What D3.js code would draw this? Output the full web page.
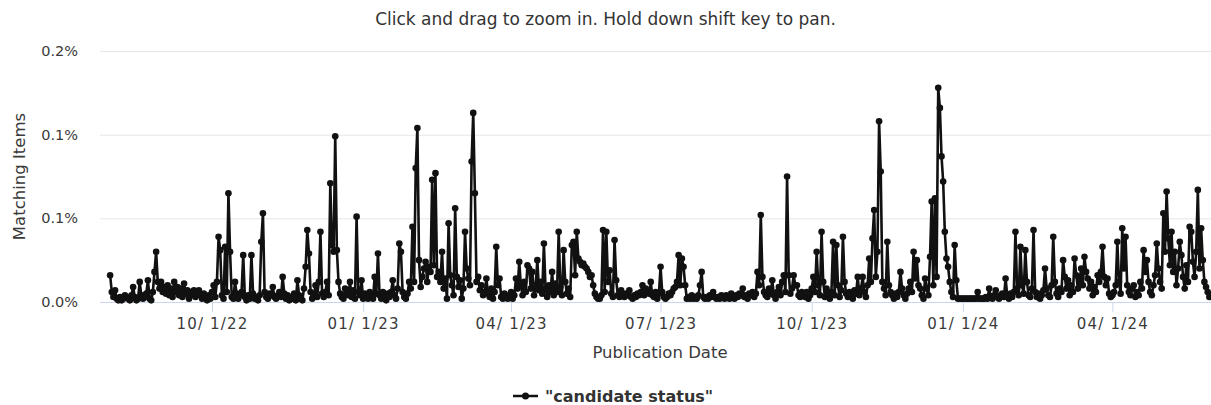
<!DOCTYPE html>
<html>
<head>
<meta charset="utf-8">
<script src="https://cdn.jsdelivr.net/npm/d3@7/dist/d3.min.js"></script>
<style>
  html, body { margin: 0; padding: 0; background: #fff; }
  svg { display: block; font-family: "DejaVu Sans", "Lucida Grande", sans-serif; }
</style>
</head>
<body>
<svg id="chart" width="1211" height="405"></svg>
<script>
// ---- DATA (daily share of matching items, in %) ----
const seriesName = '"candidate status"';
const firstDay = "2022-07-31";

// 2022-07-31 .. 2023-01-16
const valuesA = [
  0.016,0.006,0.003,0.007,0.002,0.001,0.003,0.001,0.002,0.004,
  0.003,0.002,0.001,0.004,0.009,0.003,0.001,0.002,0.012,0.004,
  0.002,0.003,0.005,0.013,0.002,0.001,0.006,0.018,0.030,0.012,
  0.008,0.012,0.006,0.009,0.005,0.010,0.004,0.008,0.003,0.012,
  0.006,0.009,0.004,0.008,0.003,0.011,0.005,0.007,0.002,0.006,
  0.004,0.007,0.003,0.005,0.007,0.004,0.002,0.005,0.003,0.001,
  0.004,0.002,0.006,0.010,0.003,0.012,0.039,0.031,0.004,0.002,
  0.033,0.006,0.065,0.030,0.003,0.002,0.012,0.005,0.002,0.004,
  0.006,0.028,0.003,0.001,0.004,0.002,0.028,0.005,0.002,0.003,
  0.001,0.004,0.036,0.053,0.006,0.003,0.002,0.005,0.004,0.009,
  0.003,0.002,0.004,0.006,0.003,0.015,0.005,0.002,0.004,0.001,
  0.003,0.002,0.005,0.001,0.013,0.004,0.002,0.001,0.008,0.021,
  0.043,0.029,0.006,0.002,0.004,0.010,0.003,0.012,0.042,0.005,
  0.003,0.006,0.012,0.004,0.071,0.034,0.030,0.099,0.031,0.012,
  0.005,0.003,0.002,0.008,0.006,0.004,0.012,0.003,0.007,0.002,
  0.051,0.006,0.004,0.013,0.002,0.005,0.003,0.002,0.006,0.004,
  0.002,0.015,0.005,0.029,0.004,0.002,0.006,0.003,0.001,0.005
];
// 2023-01-17 .. 2023-07-05
const valuesB = [
  0.003,0.006,0.013,0.004,0.002,0.008,0.035,0.030,0.006,0.003,
  0.002,0.005,0.012,0.008,0.045,0.012,0.080,0.104,0.025,0.009,
  0.015,0.020,0.024,0.012,0.021,0.018,0.073,0.022,0.077,0.015,
  0.018,0.012,0.030,0.008,0.014,0.002,0.047,0.016,0.010,0.004,
  0.056,0.015,0.009,0.013,0.002,0.008,0.042,0.020,0.014,0.010,
  0.084,0.113,0.065,0.012,0.015,0.007,0.010,0.004,0.006,0.014,
  0.005,0.003,0.008,0.002,0.006,0.033,0.010,0.014,0.003,0.002,
  0.005,0.003,0.002,0.004,0.006,0.002,0.004,0.014,0.008,0.024,
  0.010,0.004,0.012,0.006,0.022,0.020,0.008,0.018,0.004,0.010,
  0.025,0.007,0.012,0.005,0.035,0.008,0.003,0.010,0.006,0.018,
  0.004,0.011,0.006,0.042,0.009,0.004,0.031,0.012,0.005,0.008,
  0.003,0.034,0.036,0.016,0.042,0.026,0.024,0.022,0.023,0.021,
  0.020,0.018,0.015,0.016,0.010,0.005,0.003,0.002,0.002,0.004,
  0.043,0.006,0.042,0.012,0.019,0.005,0.003,0.037,0.013,0.004,
  0.003,0.007,0.004,0.003,0.005,0.004,0.007,0.003,0.002,0.004,
  0.003,0.005,0.004,0.006,0.010,0.004,0.008,0.006,0.005,0.012,
  0.004,0.003,0.006,0.002,0.005,0.021,0.006,0.003,0.002,0.003
];
// 2023-07-06 .. 2023-12-22
const valuesC = [
  0.005,0.004,0.006,0.008,0.009,0.012,0.028,0.010,0.026,0.021,
  0.010,0.002,0.003,0.002,0.004,0.002,0.003,0.002,0.004,0.010,
  0.018,0.003,0.002,0.003,0.002,0.004,0.003,0.006,0.003,0.002,
  0.003,0.002,0.004,0.003,0.002,0.004,0.003,0.002,0.005,0.003,
  0.002,0.004,0.003,0.005,0.004,0.008,0.003,0.004,0.002,0.005,
  0.004,0.006,0.003,0.005,0.018,0.010,0.052,0.015,0.006,0.004,
  0.003,0.008,0.005,0.013,0.004,0.002,0.006,0.009,0.004,0.012,
  0.016,0.006,0.075,0.016,0.005,0.008,0.016,0.010,0.010,0.004,
  0.003,0.006,0.004,0.003,0.006,0.002,0.004,0.008,0.015,0.006,
  0.030,0.010,0.004,0.042,0.012,0.003,0.008,0.005,0.002,0.006,
  0.036,0.004,0.034,0.010,0.003,0.007,0.039,0.012,0.005,0.003,
  0.006,0.004,0.002,0.007,0.005,0.015,0.004,0.008,0.015,0.006,
  0.003,0.010,0.026,0.012,0.038,0.055,0.015,0.030,0.108,0.078,
  0.012,0.008,0.004,0.036,0.010,0.006,0.004,0.002,0.005,0.003,
  0.006,0.018,0.008,0.004,0.002,0.005,0.008,0.012,0.006,0.030,
  0.014,0.025,0.010,0.008,0.004,0.002,0.014,0.008,0.004,0.027,
  0.060,0.010,0.062,0.015,0.128,0.116,0.087,0.072,0.042,0.026
];
// 2023-12-23 .. 2024-05-31
const valuesD = [
  0.021,0.012,0.006,0.003,0.034,0.013,0.002,0.002,0.002,0.002,
  0.002,0.002,0.002,0.002,0.002,0.002,0.002,0.002,0.006,0.002,
  0.002,0.002,0.002,0.003,0.002,0.008,0.003,0.002,0.004,0.007,
  0.003,0.002,0.004,0.005,0.003,0.014,0.004,0.002,0.005,0.003,
  0.006,0.042,0.008,0.004,0.033,0.010,0.005,0.031,0.012,0.004,
  0.003,0.008,0.043,0.006,0.003,0.005,0.002,0.004,0.007,0.020,
  0.008,0.004,0.003,0.010,0.039,0.012,0.005,0.003,0.008,0.006,
  0.025,0.015,0.008,0.013,0.004,0.010,0.006,0.026,0.016,0.008,
  0.013,0.020,0.010,0.027,0.018,0.014,0.008,0.012,0.004,0.009,
  0.006,0.016,0.012,0.018,0.033,0.015,0.010,0.014,0.005,0.003,
  0.004,0.006,0.010,0.036,0.012,0.005,0.044,0.020,0.039,0.010,
  0.006,0.004,0.008,0.010,0.003,0.006,0.004,0.012,0.008,0.031,
  0.018,0.025,0.012,0.006,0.004,0.010,0.016,0.035,0.020,0.012,
  0.008,0.053,0.030,0.066,0.038,0.022,0.042,0.018,0.030,0.010,
  0.020,0.036,0.028,0.015,0.008,0.022,0.012,0.045,0.042,0.024,
  0.015,0.030,0.067,0.020,0.044,0.025,0.012,0.009,0.006,0.003,
  0.004
];

const yTickValues = [0, 0.05, 0.10, 0.15];
const yTickLabels = ["0.0%", "0.1%", "0.1%", "0.2%"];
const xTickDates = ["2022-10-01", "2023-01-01", "2023-04-01", "2023-07-01", "2023-10-01", "2024-01-01", "2024-04-01"];

const chartTitle = "Click and drag to zoom in. Hold down shift key to pan.";
const yTitle = "Matching Items";
const xTitle = "Publication Date";

// ---- BUILD ----
const parse = d3.utcParse("%Y-%m-%d");
const start = parse(firstDay);
const allValues = [].concat(valuesA, valuesB, valuesC, valuesD);
const data = allValues.map((v, i) => ({ date: d3.utcDay.offset(start, i), value: v }));

const W = 1211, H = 405;
const plot = { left: 100, right: 1211, top: 51, bottom: 302 };
const textColor = "#3a3a3a";

const svg = d3.select("#chart");

const x = d3.scaleUtc()
  .domain([parse("2022-10-01"), parse("2024-04-01")])
  .range([212, 1112.4]);
const y = d3.scaleLinear().domain([0, 0.15]).range([plot.bottom, plot.top]);

// title
svg.append("text")
  .attr("x", W / 2).attr("y", 25)
  .attr("text-anchor", "middle")
  .attr("font-size", 17).attr("fill", "#333")
  .text(chartTitle);

// y grid + labels
const yAxis = d3.axisLeft(y)
  .tickValues(yTickValues)
  .tickSize(-(plot.right - plot.left))
  .tickPadding(22)
  .tickFormat((d, i) => yTickLabels[i]);
const gy = svg.append("g").attr("transform", `translate(${plot.left},0)`).call(yAxis);
gy.select(".domain").remove();
gy.selectAll(".tick line").attr("stroke", "#e6e6e6").attr("stroke-width", 1);
gy.selectAll(".tick text").attr("font-size", 14.5).attr("fill", textColor).attr("font-family", "DejaVu Sans");

// x axis
const xAxis = d3.axisBottom(x)
  .tickValues(xTickDates.map(parse))
  .tickSize(10)
  .tickPadding(6)
  .tickFormat(d3.utcFormat("%m/%e/%y"));
const gx = svg.append("g").attr("transform", `translate(0,${plot.bottom})`).call(xAxis);
gx.select(".domain").attr("d", `M${plot.left},0.5H${plot.right}`).attr("stroke", "#ccd6eb");
gx.selectAll(".tick line").attr("stroke", "#ccd6eb");
gx.selectAll(".tick text").attr("font-size", 15).attr("letter-spacing", 1.2)
  .attr("fill", textColor).attr("font-family", "DejaVu Sans");

// axis titles
svg.append("text")
  .attr("transform", `translate(25,${(plot.top + plot.bottom) / 2}) rotate(-90)`)
  .attr("text-anchor", "middle")
  .attr("font-size", 16.5).attr("fill", textColor)
  .text(yTitle);
svg.append("text")
  .attr("x", 660).attr("y", 358)
  .attr("text-anchor", "middle")
  .attr("font-size", 16.5).attr("fill", textColor)
  .text(xTitle);

// clip
svg.append("clipPath").attr("id", "clip")
  .append("rect").attr("x", plot.left).attr("y", 0).attr("width", plot.right - plot.left + 5).attr("height", plot.bottom + 10);

const lineColor = "#111";
const g = svg.append("g").attr("clip-path", "url(#clip)");
const line = d3.line().x(d => x(d.date)).y(d => y(d.value));
g.append("path").datum(data)
  .attr("d", line)
  .attr("fill", "none")
  .attr("stroke", lineColor)
  .attr("stroke-width", 2.6)
  .attr("stroke-linejoin", "round");
g.selectAll("circle").data(data).enter().append("circle")
  .attr("cx", d => x(d.date)).attr("cy", d => y(d.value))
  .attr("r", 3.3).attr("fill", lineColor);

// legend
const lg = svg.append("g").attr("transform", "translate(513,396)");
lg.append("line").attr("x1", 0).attr("x2", 25).attr("y1", 0).attr("y2", 0)
  .attr("stroke", lineColor).attr("stroke-width", 2.5);
lg.append("circle").attr("cx", 12.5).attr("cy", 0).attr("r", 3.5).attr("fill", lineColor);
lg.append("text").attr("x", 32).attr("y", 6)
  .attr("font-size", 16).attr("font-weight", "bold").attr("fill", "#333")
  .text(seriesName);
</script>
</body>
</html>
